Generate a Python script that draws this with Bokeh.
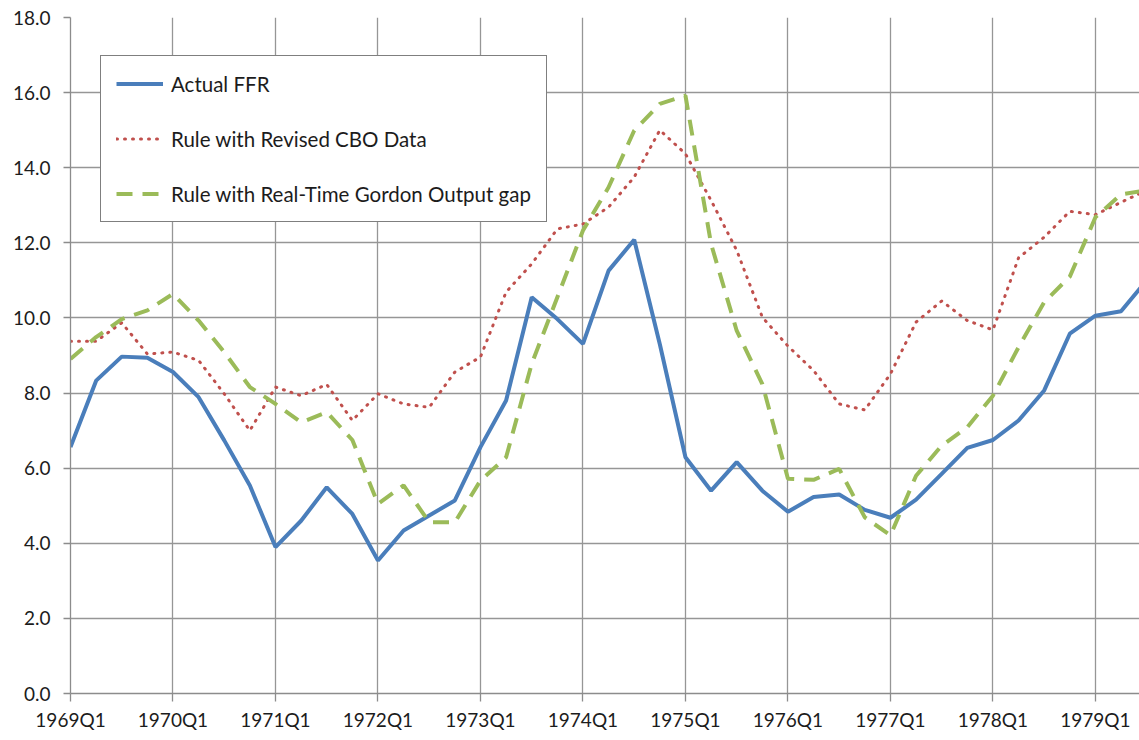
from bokeh.plotting import figure
from bokeh.models import FixedTicker, NumeralTickFormatter, Range1d
from bokeh.embed import file_html
from bokeh.resources import INLINE

quarters = [f"{y}Q{q}" for y in range(1969, 1980) for q in range(1, 5)][:43]
tick_labels = ["1969Q1", "1970Q1", "1971Q1", "1972Q1", "1973Q1", "1974Q1",
               "1975Q1", "1976Q1", "1977Q1", "1978Q1", "1979Q1"]

actual_ffr = [6.56, 8.33, 8.97, 8.94,
              8.56, 7.89, 6.74, 5.54,
              3.90, 4.60, 5.49, 4.78,
              3.54, 4.34, 4.74, 5.14,
              6.56, 7.80, 10.55, 9.97,
              9.31, 11.26, 12.08, 9.30,
              6.29, 5.40, 6.16, 5.40,
              4.84, 5.23, 5.30, 4.89,
              4.68, 5.16, 5.85, 6.54,
              6.75, 7.27, 8.07, 9.58,
              10.06, 10.18, 11.00]

rule_cbo = [9.38, 9.38, 9.87, 9.04,
            9.09, 8.87, 7.98, 7.00,
            8.16, 7.93, 8.23, 7.27,
            7.98, 7.71, 7.62, 8.56,
            8.96, 10.69, 11.44, 12.37,
            12.50, 12.95, 13.75, 15.00,
            14.37, 13.13, 11.80, 10.02,
            9.25, 8.60, 7.71, 7.55,
            8.51, 9.89, 10.45, 9.93,
            9.68, 11.60, 12.15, 12.84,
            12.75, 13.08, 13.40]

rule_gordon = [8.91, 9.49, 9.97, 10.20,
               10.64, 9.93, 9.09, 8.16,
               7.71, 7.22, 7.49, 6.75,
               5.05, 5.54, 4.56, 4.56,
               5.67, 6.29, 8.78, 10.55,
               12.33, 13.48, 14.99, 15.70,
               15.92, 11.97, 9.66, 8.24,
               5.72, 5.69, 5.98, 4.69,
               4.21, 5.80, 6.60, 7.09,
               7.93, 9.22, 10.42, 11.10,
               12.68, 13.29, 13.40]

x = list(range(len(quarters)))
tick_pos = [quarters.index(t) for t in tick_labels]

FONT = "Lato"
TXT = "#1c1c1c"
GRID = "#969696"

p = figure(width=1139, height=740, output_backend="svg", toolbar_location=None,
           x_range=Range1d(0, 41.72), y_range=Range1d(0, 18),
           min_border_left=70, min_border_right=0, min_border_top=17,
           min_border_bottom=47)
p.outline_line_color = None
p.background_fill_color = "white"

p.line(x, actual_ffr, line_color="#4a7ebb", line_width=4,
       legend_label="Actual FFR")
p.line(x, rule_cbo, line_color="#c0504d", line_width=3, line_dash="1 7",
       line_cap="round", legend_label="Rule with Revised CBO Data")
p.line(x, rule_gordon, line_color="#9bbb59", line_width=4, line_dash="16 10",
       legend_label="Rule with Real-Time Gordon Output gap")

p.xaxis.ticker = FixedTicker(ticks=tick_pos)
p.xaxis.major_label_overrides = {pos: lab for pos, lab in zip(tick_pos, tick_labels)}
p.yaxis.ticker = FixedTicker(ticks=list(range(0, 19, 2)))
p.yaxis.formatter = NumeralTickFormatter(format="0.0")

for ax in (p.xaxis, p.yaxis):
    ax.axis_line_color = "#8c8c8c"
    ax.axis_line_width = 1.3
    ax.major_tick_line_color = "#8c8c8c"
    ax.major_tick_line_width = 1.3
    ax.major_tick_in = 0
    ax.minor_tick_line_color = None
    ax.major_label_text_font = FONT
    ax.major_label_text_font_size = "19px"
    ax.major_label_text_color = TXT

p.xaxis.major_tick_out = 8
p.xaxis.major_label_standoff = 6
p.yaxis.major_tick_out = 7
p.yaxis.major_label_standoff = 13

p.xgrid.ticker = FixedTicker(ticks=tick_pos)
p.grid.grid_line_color = GRID
p.grid.grid_line_width = 1.3

lg = p.legend[0]
lg.location = (30, 471)
lg.border_line_color = "black"
lg.border_line_width = 1.3
lg.background_fill_alpha = 1.0
lg.label_text_font = FONT
lg.label_text_font_size = "20.5px"
lg.label_text_color = TXT
lg.glyph_width = 47
lg.glyph_height = 25
lg.label_height = 25
lg.label_standoff = 8
lg.spacing = 30
lg.padding = 15
lg.margin = 0

open("out.html", "w").write(file_html(p, INLINE))
